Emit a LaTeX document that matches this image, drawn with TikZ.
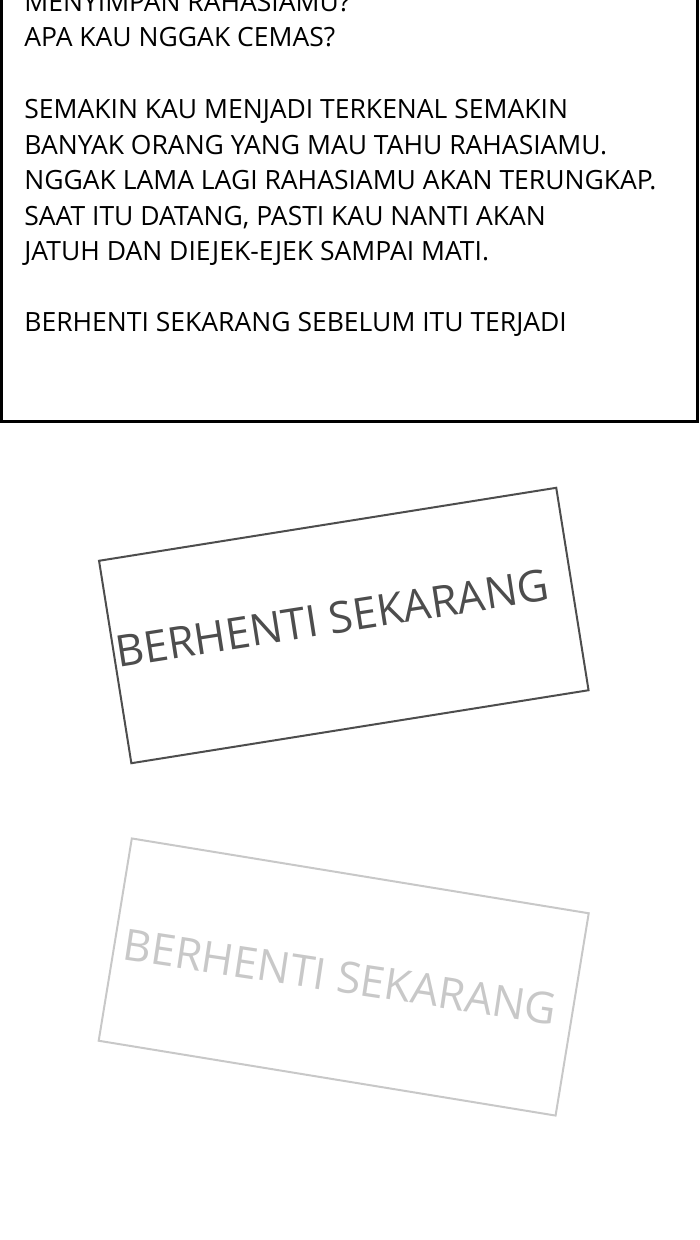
\documentclass[tikz,border=0pt]{standalone}
\usepackage{fontspec}
\setmainfont{Open Sans}
\usetikzlibrary{positioning}
\definecolor{stampdark}{HTML}{4D4D4D}
\definecolor{stamplight}{HTML}{C8C8C8}
\tikzset{
	panel/.style={line width=3pt, color=black},
	talk/.style={anchor=base west, inner sep=0pt, font=\fontsize{26.5}{35.7}\selectfont},
	stampframe/.style={draw, line width=2pt, inner sep=0pt, minimum width=463pt, minimum height=205pt},
	stampword/.style={anchor=base west, inner sep=0pt, font=\fontsize{43.6}{50}\selectfont}
}
\begin{document}
\begin{tikzpicture}[x=1pt, y=-1pt]
		%%%%% START %%%%%
		\useasboundingbox (0, 0) rectangle (700, 1240);
		\clip (0, 0) rectangle (700, 1240);
		
		% letter panel
		\draw[panel] (1.5, -20) rectangle (697.5, 421.5);
		
		\node[talk] (lineA) at (24.2, 11.7) {MENYIMPAN RAHASIAMU?};
		\node[talk] (lineB) at (24.2, 46.7) {APA KAU NGGAK CEMAS?};
		
		\node[talk] (lineC) at (24.2, 118.3) {SEMAKIN KAU MENJADI TERKENAL SEMAKIN};
		\node[talk] (lineD) at (24.2, 154) {BANYAK ORANG YANG MAU TAHU RAHASIAMU.};
		\node[talk] (lineE) at (24.2, 189.3) {NGGAK LAMA LAGI RAHASIAMU AKAN TERUNGKAP.};
		\node[talk] (lineF) at (24.2, 225) {SAAT ITU DATANG, PASTI KAU NANTI AKAN};
		\node[talk] (lineG) at (24.2, 260) {JATUH DAN DIEJEK-EJEK SAMPAI MATI.};
		
		\node[talk] (lineH) at (24.2, 331.7) {BERHENTI SEKARANG SEBELUM ITU TERJADI};
		
		% dark stamp
		\node[stampframe, color=stampdark, rotate=9.07] (stampA) at (343.8, 625.5) {};
		\node[stampword, color=stampdark, rotate=8.9] (wordA) at (118, 667.6) {BERHENTI SEKARANG};
		
		% faded stamp
		\node[stampframe, color=stamplight, rotate=-9.3] (stampB) at (343.7, 977) {};
		\node[stampword, color=stamplight, rotate=-8.6] (wordB) at (121, 959.4) {BERHENTI SEKARANG};
		
		%%%%% END %%%%%
	\end{tikzpicture}
\end{document}
